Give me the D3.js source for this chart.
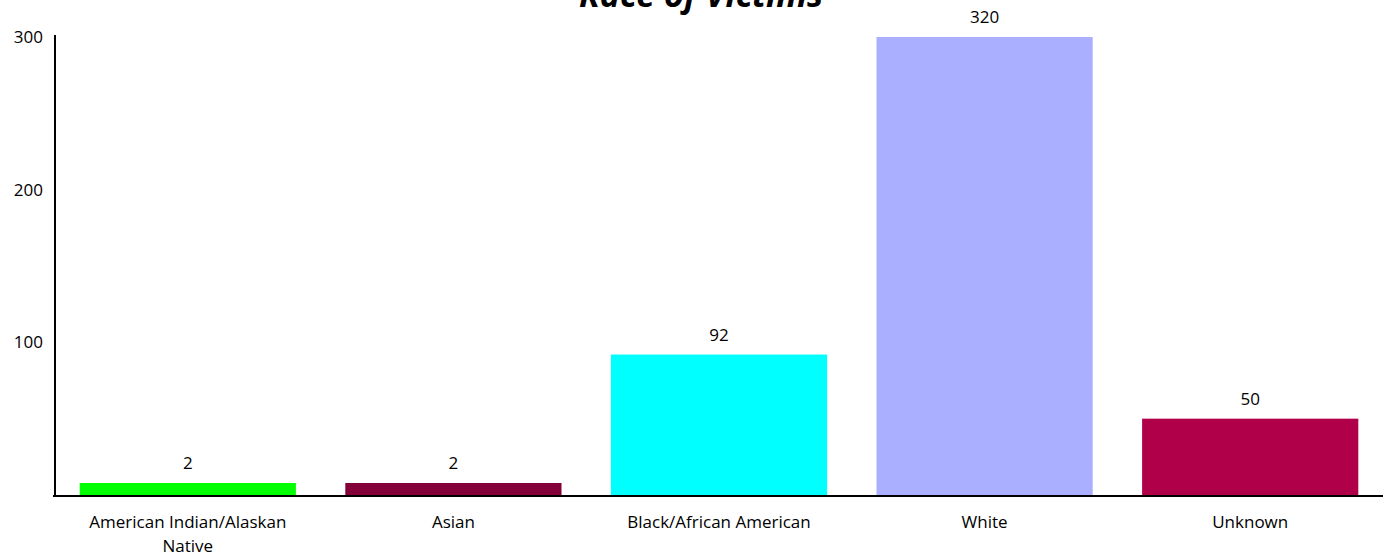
<!DOCTYPE html>
<html>
<head>
<meta charset="utf-8">
<script src="https://cdn.jsdelivr.net/npm/d3@7"></script>
<style>
  body { margin: 0; background: #fff; }
  text { font-family: "Open Sans", sans-serif; fill: #000; }
</style>
</head>
<body>
<div id="chart"></div>
<script>

var categories = ['American Indian/Alaskan Native', 'Asian', 'Black/African American', 'White', 'Unknown'];
var victims    = [2, 2, 92, 320, 50];
var colors     = ['#00ff00', '#830039', '#00ffff', '#aaafff', '#b0004a'];
var yTicks     = [100, 200, 300];
var title      = 'Race of Victims';

draw();

function draw() {
    var tWidth  = 1391;
    var tHeight = 560;
    var minBar  = 12;

    var svg = d3.select('#chart')
        .append('svg')
        .attr('width', tWidth)
        .attr('height', tHeight)

    var data = categories.map((c, i) => ({ name: c, value: victims[i], color: colors[i] }))

    var xScale = d3.scaleBand().domain(categories).range([55, 1383]).paddingInner(0.186).paddingOuter(0.093)
    var yScale = d3.scaleLinear().domain([0, 300]).range([495, 37]).clamp(true)

    // bars (clipped at the top of the axis like the original, tiny values get a min height)
    svg.selectAll('rect.bar').data(data).enter().append('rect')
        .attr('class', 'bar')
        .attr('fill', d => d.color)
        .attr('x', d => xScale(d.name))
        .attr('width', xScale.bandwidth())
        .attr('y', d => Math.min(yScale(d.value), yScale(0) - minBar))
        .attr('height', d => Math.max(yScale(0) - yScale(d.value), minBar))

    svg.selectAll('text.val').data(data).enter().append('text')
        .attr('class', 'val')
        .attr('text-anchor', 'middle')
        .attr('font-size', 17)
        .attr('x', d => xScale(d.name) + xScale.bandwidth() / 2)
        .attr('y', d => Math.min(yScale(d.value), yScale(0) - minBar) - 14)
        .text(d => d.value)

    // y axis
    var yAxis = d3.axisLeft(yScale).tickValues(yTicks).tickSize(0).tickPadding(12)
    var gy = svg.append('g').attr('transform', 'translate(55,0)').call(yAxis)
    gy.select('.domain').attr('stroke', '#000').attr('stroke-width', 2).attr('d', 'M0,35V496')
    gy.selectAll('text').attr('font-size', 17).attr('font-family', '"Open Sans", sans-serif')

    // x axis
    var xAxis = d3.axisBottom(xScale).tickSize(0).tickPadding(20)
    var gx = svg.append('g').attr('transform', 'translate(0,496)').call(xAxis)
    gx.select('.domain').attr('stroke', '#000').attr('stroke-width', 2).attr('d', 'M53,0H1383')
    gx.selectAll('text').attr('font-size', 17).attr('font-family', '"Open Sans", sans-serif')
        .call(wrap, xScale.bandwidth())

    svg.append('text')
        .attr('x', 701)
        .attr('y', 7)
        .attr('text-anchor', 'middle')
        .attr('font-size', 34)
        .attr('font-weight', 'bold')
        .attr('font-style', 'italic')
        .text(title)
}

function wrap(texts, width) {
    texts.each(function () {
        var text = d3.select(this)
        var words = text.text().split(/\s+/)
        var y = text.attr('y')
        var dy = parseFloat(text.attr('dy'))
        var line = []
        var lineNo = 0
        var tspan = text.text(null).append('tspan').attr('x', 0).attr('y', y).attr('dy', dy + 'em')
        words.forEach(w => {
            line.push(w)
            tspan.text(line.join(' '))
            if (tspan.node().getComputedTextLength() > width && line.length > 1) {
                line.pop()
                tspan.text(line.join(' '))
                line = [w]
                lineNo++
                tspan = text.append('tspan').attr('x', 0).attr('y', y)
                    .attr('dy', (lineNo * 1.4 + dy) + 'em').text(w)
            }
        })
    })
}
</script>
</body>
</html>
